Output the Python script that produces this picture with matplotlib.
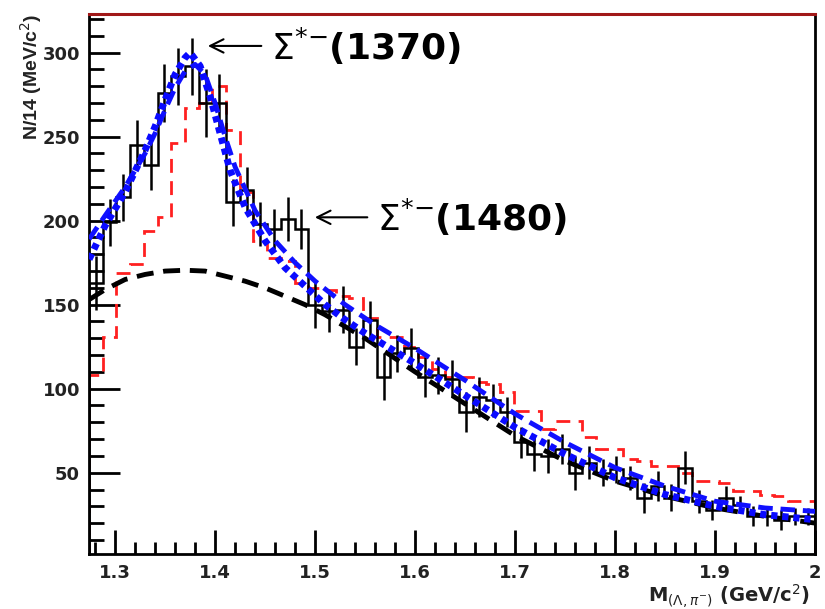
import numpy as np
import matplotlib
matplotlib.use('Agg')
import matplotlib.pyplot as plt
from matplotlib.ticker import MultipleLocator

plt.rcParams['font.family'] = ['DejaVu Sans']

# ── Binning ──────────────────────────────────────────────────
X_MIN, X_MAX, N_BINS = 1.274, 2.0, 53

# ── Data histogram (counts per bin, symmetric errors) ───────
data_counts = [163, 199, 214, 245, 233, 276, 286, 292, 270, 270,
               211, 218, 198, 195, 201, 195, 150, 146, 147, 125,
               141, 107, 121, 124, 107, 108, 106, 86, 95, 93,
               86, 68, 61, 60, 64, 50, 56, 50, 52, 47,
               35, 42, 35, 53, 33, 28, 35, 31, 24, 24,
               22, 24, 24]
data_errors = [16, 14, 14, 15, 15, 17, 17, 17, 20, 17,
               14, 14, 13, 12, 13, 12, 14, 12, 14, 11,
               11, 14, 11, 12, 12, 11, 11, 12, 12, 10,
               9, 9, 10, 10, 9, 10, 10, 8, 8, 7,
               9, 9, 8, 10, 7, 6, 7, 5, 6, 6,
               6, 5, 5]

# ── Reference histogram (red dashed) ─────────────────────────
mc_counts = [108, 131, 169, 174, 194, 202, 246, 267, 270, 280,
             254, 217, 188, 178, 176, 163, 160, 159, 155, 154,
             142, 131, 131, 125, 119, 112, 107, 107, 104, 103,
             98, 87, 87, 76, 81, 81, 71, 64, 64, 58,
             57, 54, 54, 50, 45, 45, 44, 39, 39, 37,
             36, 33, 33]

# ── Fit curves ───────────────────────────────────────────────
fit1_x = [1.274, 1.29, 1.31, 1.33, 1.34, 1.35, 1.36, 1.37, 1.375, 1.385,
          1.395, 1.405, 1.415, 1.43, 1.45, 1.47, 1.49, 1.51, 1.53, 1.55,
          1.60, 1.65, 1.70, 1.75, 1.80, 1.85, 1.90, 1.95, 2.00]
fit1_y = [177, 197, 217, 242, 256, 272, 287, 297, 300, 292,
          274, 252, 230, 208, 188, 172, 161, 150, 141, 133,
          115, 96, 77, 61, 47, 37, 30, 25, 22]

fit2_x = [1.274, 1.29, 1.31, 1.33, 1.34, 1.35, 1.36, 1.37, 1.38, 1.39,
          1.40, 1.41, 1.42, 1.44, 1.46, 1.48, 1.50, 1.53, 1.56, 1.60,
          1.65, 1.70, 1.75, 1.80, 1.85, 1.90, 1.95, 2.00]
fit2_y = [189, 203, 220, 240, 252, 266, 279, 289, 293, 287,
          270, 250, 232, 206, 188, 175, 164, 150, 138, 124,
          105, 85, 68, 53, 42, 33, 29, 27]

bkg_x = [1.274, 1.29, 1.31, 1.33, 1.35, 1.37, 1.39, 1.41, 1.43, 1.45,
         1.47, 1.49, 1.51, 1.53, 1.55, 1.60, 1.65, 1.70, 1.75, 1.80,
         1.85, 1.90, 1.95, 2.00]
bkg_y = [153, 159, 165, 168, 170, 170.5, 170, 167, 164, 160,
         155, 150, 144, 137, 130, 110, 91, 72, 57, 45,
         36, 29, 24, 20]

edges = np.linspace(X_MIN, X_MAX, N_BINS + 1)
centers = 0.5 * (edges[:-1] + edges[1:])

fig = plt.figure(figsize=(8.25, 6.09), dpi=100)
ax = fig.add_axes([0.108, 0.090, 0.880, 0.887])

# reference histogram
ax.stairs(mc_counts, edges, color='#ff2020', lw=2.0,
          linestyle=(0, (5, 3)), zorder=2)

# data: outline + error bars
ax.stairs(data_counts, edges, color='black', lw=1.8, zorder=3)
ax.errorbar(centers, data_counts, yerr=data_errors, fmt='none',
            ecolor='black', elinewidth=1.8, capsize=0, zorder=3)

# background and total fits
ax.plot(bkg_x, bkg_y, color='black', lw=3.5,
        linestyle=(0, (3.5, 2)), zorder=4)
ax.plot(fit2_x, fit2_y, color='#1010ff', lw=3.5,
        linestyle=(0, (3, 1.6)), zorder=5)
ax.plot(fit1_x, fit1_y, color='#0a0aff', lw=5.0,
        linestyle=(0, (0.9, 0.7)), zorder=6)

ax.set_xlim(X_MIN, X_MAX)
ax.set_ylim(1.5, 323)

ax.xaxis.set_minor_locator(MultipleLocator(0.02))
ax.yaxis.set_minor_locator(MultipleLocator(10))
ax.set_yticks([50, 100, 150, 200, 250, 300])
ax.set_xticks([1.3, 1.4, 1.5, 1.6, 1.7, 1.8, 1.9, 2.0])
ax.set_xticklabels(['1.3', '1.4', '1.5', '1.6', '1.7', '1.8', '1.9', '2'])

ax.tick_params(axis='both', which='both', direction='in',
               top=False, right=False, width=2, color='black',
               labelsize=13, labelcolor='#222222')
ax.tick_params(axis='y', which='major', length=22, pad=6.5)
ax.tick_params(axis='y', which='minor', length=11)
ax.tick_params(axis='x', which='major', length=17, pad=7)
ax.tick_params(axis='x', which='minor', length=9)
for lab in ax.get_xticklabels() + ax.get_yticklabels():
    lab.set_fontweight('bold')

for side in ['left', 'bottom', 'right']:
    ax.spines[side].set_linewidth(2)
    ax.spines[side].set_color('black')
ax.spines['top'].set_linewidth(2.2)
ax.spines['top'].set_color('#a01818')

# resonance markers
arrow_kw = dict(arrowstyle='->', lw=1.5, color='black', mutation_scale=24)
ax.annotate('', xy=(1.390, 304), xytext=(1.449, 304), arrowprops=arrow_kw)
ax.text(1.456, 304, r'$\Sigma^{*\!-}\!$' + '(1370)', fontsize=26,
        fontweight='bold', va='center', ha='left')
ax.annotate('', xy=(1.497, 202), xytext=(1.555, 202), arrowprops=arrow_kw)
ax.text(1.562, 202, r'$\Sigma^{*\!-}\!$' + '(1480)', fontsize=26,
        fontweight='bold', va='center', ha='left')

# axis titles
fig.text(31 / 825, 1 - 14 / 609, r'N/14 (MeV/c$^2$)', rotation=90,
         ha='center', va='top', fontsize=14, fontweight='bold',
         family='Liberation Sans', color='#222222')
fig.text(810 / 825, 1 - 596 / 609,
         r'M$_{(\Lambda,\pi^{-})}$ (GeV/c$^2$)', ha='right',
         va='center', fontsize=14, fontweight='bold', color='#222222')

fig.savefig('out.png', dpi=100)
